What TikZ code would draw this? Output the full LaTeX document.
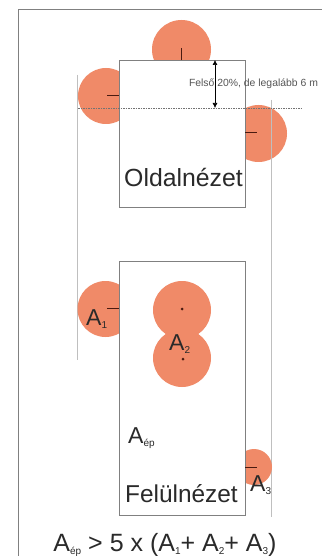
\documentclass[tikz,border=0pt]{standalone}
\usepackage{fontspec}
\usetikzlibrary{arrows.meta}
\setmainfont{Liberation Sans}
\definecolor{tree}{HTML}{F08A68}
\definecolor{frm}{HTML}{808080}
\definecolor{ink}{HTML}{2A2A2A}
\definecolor{tickc}{HTML}{4A1A10}
\tikzset{
  x=1pt,y=-1pt,
  treedisc/.style={circle,fill=tree,draw=none,inner sep=0pt},
  house/.style={draw=frm,line width=0.9pt,fill=white},
  guide/.style={draw=black!25,line width=0.4pt},
  tick/.style={draw=tickc,line width=1pt},
  lbl/.style={inner sep=0pt,text=ink,font=\fontsize{23}{23}\selectfont},
}
\newcommand{\Asub}[1]{A\raisebox{-3pt}{\fontsize{10}{10}\selectfont #1}}
\begin{document}
\begin{tikzpicture}
\useasboundingbox (0,0) rectangle (322,556);
\fill[white] (0,0) rectangle (322,556);
\draw[frm,line width=1pt] (18,556) -- (18,10) -- (322,10);
% side view
\node[treedisc,minimum size=59pt] (t1) at (181.5,49.5) {};
\node[treedisc,minimum size=56pt] (t2) at (106,96) {};
\node[treedisc,minimum size=57pt] (t3) at (258.5,133.5) {};
\coordinate (g1a) at (77.5,75); \coordinate (g1b) at (77.5,360);
\coordinate (g2a) at (271,100); \coordinate (g2b) at (271,517);
\node[house,minimum width=126pt,minimum height=147pt,inner sep=0pt] (side) at (182,133.5) {};
\draw[guide] (g1a) -- (g1b);
\draw[guide] (g2a) -- (g2b);
\draw[tick] (181.5,48) -- (181.5,60);
\draw[tick] (107,96) -- (119,96);
\draw[tick] (245,133) -- (257,133);
\coordinate (d1) at (78,108); \coordinate (d2) at (303,108);
\draw[black!55,dash pattern=on 1.5pt off 1pt,line width=0.4pt] (d1) -- (d2);
\coordinate (a1) at (215,60); \coordinate (a2) at (215,108);
\draw[black,line width=0.6pt,{Latex[length=5pt,width=5pt]}-{Latex[length=5pt,width=5pt]}] (a1) -- (a2);
\node[inner sep=0pt,text=ink!80,font=\fontsize{10.4}{11}\selectfont] (note) at (253.5,84) {Felső 20\%, de legalább 6 m};
\node[lbl,anchor=base,font=\fontsize{24.8}{25}\selectfont] (oldal) at (183.5,186) {Oldalnézet};
% top view
\node[treedisc,minimum size=56pt] (c1) at (105.5,309) {};
\node[treedisc,minimum size=36pt] (c3) at (254,467) {};
\node[house,minimum width=126pt,minimum height=254pt,inner sep=0pt] (top) at (182,388) {};
\node[treedisc,minimum size=58pt] (c2) at (182,310) {};
\node[treedisc,minimum size=58pt] (c4) at (182,358) {};
\draw[tick,line width=0.8pt] (107,308) -- (119,308);
\draw[tick,line width=0.8pt] (245,467) -- (257,467);
\fill[tickc] (182,309) circle (1.5pt);
\fill[tickc] (183,359) circle (1.5pt);
\node[lbl,anchor=base west] (la1) at (86,325) {\Asub{1}};
\node[lbl,anchor=base west] (la2) at (169,350) {\Asub{2}};
\node[lbl,anchor=base west] (la3) at (250,491) {\Asub{3}};
\node[lbl,anchor=base west] (lae) at (128,443) {\Asub{ép}};
\node[lbl,anchor=base,font=\fontsize{24.4}{25}\selectfont] (fel) at (181.5,502) {Felülnézet};
\node[lbl,anchor=base,font=\fontsize{25}{26}\selectfont] (form) at (165,551) {\Asub{ép} > 5 x (\Asub{1}+ \Asub{2}+ \Asub{3})};
\end{tikzpicture}
\end{document}
